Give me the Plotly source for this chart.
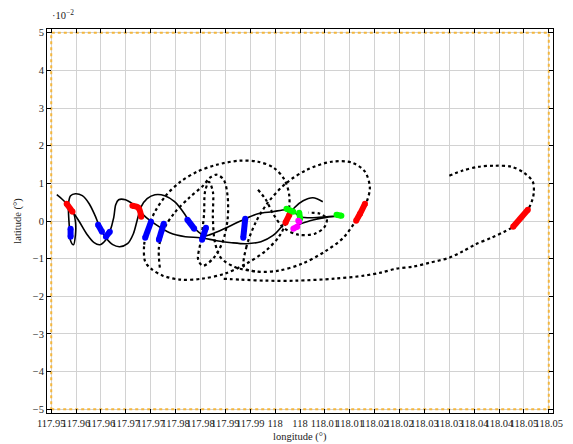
import plotly.graph_objects as go

# Latitudes are stored in units of 1e-2 degrees (the axis carries the 10^-2 factor).

# Domain boundary
box_lon = [117.95, 118.05, 118.05, 117.95, 117.95]
box_lat = [-5, -5, 5, 5, -5]

# Solid trajectories
s1_lon = [117.95112, 117.95231, 117.95369, 117.95448, 117.95487, 117.95487, 117.95448, 117.95389,
          117.95369, 117.95349, 117.95349, 117.95389, 117.95487, 117.95625, 117.95763, 117.95882,
          117.95980, 117.96099, 117.96237, 117.96375, 117.96533, 117.96651, 117.96730, 117.96809,
          117.96927, 117.97085, 117.97282, 117.97479, 117.97677, 117.97815, 117.97953, 117.98091,
          117.98288, 117.98564, 117.98860, 117.99156, 117.99452, 117.99728, 117.99866, 118.00004,
          118.00260, 118.00537, 118.00813, 118.00497, 118.00201, 117.99965]
s1_lat = [0.698, 0.565, 0.380, 0.220, -0.019, -0.364, -0.629, -0.523,
          -0.231, 0.167, 0.486, 0.672, 0.725, 0.672, 0.459, 0.141,
          -0.178, -0.443, -0.629, -0.682, -0.603, -0.337, 0.035, 0.380,
          0.592, 0.698, 0.672, 0.512, 0.194, -0.098, -0.284, -0.390,
          -0.311, -0.151, 0.035, 0.194, 0.247, 0.300, 0.247, 0.114,
          0.088, 0.114, 0.141, 0.088, 0.008, -0.098]

s2_lon = [117.95408, 117.95566, 117.95724, 117.95862, 117.95980, 117.96099, 117.96178, 117.96256,
          117.96296, 117.96355, 117.96493, 117.96631, 117.96750, 117.96868, 117.97105, 117.97381,
          117.97696, 117.97992, 117.98327, 117.98623, 117.98919, 117.99215, 117.99452, 117.99629,
          117.99748, 117.99886, 118.00063, 118.00260, 118.00458]
s2_lat = [0.300, -0.019, -0.364, -0.576, -0.629, -0.496, -0.284, 0.088,
          0.433, 0.565, 0.565, 0.459, 0.327, 0.141, -0.098, -0.311,
          -0.417, -0.443, -0.523, -0.576, -0.603, -0.549, -0.390, -0.151,
          0.088, 0.353, 0.539, 0.619, 0.512]

# Dotted trajectories
da_lon = [117.96888, 117.96868, 117.96947, 117.97085, 117.97302, 117.97598, 117.97933, 117.98327,
          117.98781, 117.99156, 117.99471, 117.99688, 117.99787, 117.99748, 117.99590, 117.99314,
          117.98919, 117.98485, 117.98032, 117.97598, 117.97243, 117.97006, 117.96888]
da_lat = [-1.080, -0.629, -0.178, 0.247, 0.672, 1.043, 1.309, 1.495,
          1.601, 1.574, 1.415, 1.096, 0.645, 0.088, -0.390, -0.788,
          -1.134, -1.399, -1.532, -1.558, -1.452, -1.266, -1.080]

db_lon = [117.97183, 117.97164, 117.97262, 117.97479, 117.97775, 117.98051, 117.98189, 117.98327,
          117.98466, 117.98544, 117.98544, 117.98446, 117.98268, 117.98051, 117.97953, 117.98012,
          117.98071, 117.98091, 117.98170, 117.98249, 117.98249, 117.98288, 117.98406, 117.98722,
          117.99156]
db_lat = [-1.240, -0.709, -0.231, 0.220, 0.619, 0.937, 1.149, 1.229,
          1.096, 0.672, 0.035, -0.549, -0.974, -1.187, -1.027, -0.496,
          0.167, 0.778, 1.043, 0.778, 0.088, -0.549, -0.974, -1.240,
          -1.346]

dc_lon = [117.98880, 117.98919, 117.99097, 117.99353, 117.99708, 118.00142, 118.00635, 118.01049,
          118.01306, 118.01404, 118.01325, 118.01207, 118.01109, 118.00872, 118.00497, 118.00043,
          117.99570, 117.99156, 117.98880]
dc_lat = [-1.240, -0.709, -0.072, 0.486, 0.990, 1.362, 1.574, 1.548,
          1.309, 0.884, 0.459, 0.194, -0.019, -0.443, -0.815, -1.134,
          -1.319, -1.346, -1.240]

de_lon = [117.99156, 117.99314, 117.99471, 117.99669, 117.99965, 118.00300, 118.00497, 118.00537,
          118.00399, 118.00162]
de_lat = [0.831, 0.565, 0.167, -0.178, -0.364, -0.337, -0.151, 0.061,
          0.194, 0.220]

dd_lon = [118.03002, 118.03258, 118.03594, 118.03909, 118.04245, 118.04501, 118.04679, 118.04698,
          118.04659, 118.04580, 118.04442, 118.04284, 118.04107, 118.03850, 118.03515, 118.03258,
          118.03002, 118.02608, 118.02272, 118.01937, 118.01621, 118.01286, 118.00694, 117.99905,
          117.99314, 117.98821, 117.98426]
dd_lat = [1.203, 1.335, 1.441, 1.468, 1.441, 1.282, 1.043, 0.745,
          0.519, 0.300, 0.061, -0.151, -0.284, -0.443, -0.629, -0.815,
          -0.974, -1.107, -1.213, -1.266, -1.372, -1.452, -1.532, -1.585,
          -1.585, -1.558, -1.532]

# Event segments
red_segments = [
    ([117.95310, 117.95428], [0.459, 0.247]),
    ([117.96631, 117.96750, 117.96809], [0.406, 0.353, 0.114]),
    ([117.99787, 117.99708], [0.167, -0.045]),
    ([118.01306, 118.01207, 118.01128], [0.459, 0.194, 0.008]),
    ([118.04580, 118.04284], [0.300, -0.151]),
]
blue_segments = [
    ([117.95389, 117.95389], [-0.204, -0.417]),
    ([117.95941, 117.96020], [-0.098, -0.284]),
    ([117.96099, 117.96178], [-0.417, -0.284]),
    ([117.97006, 117.96888], [-0.019, -0.443]),
    ([117.97262, 117.97164], [-0.072, -0.496]),
    ([117.97736, 117.97874], [0.035, -0.204]),
    ([117.98110, 117.98032], [-0.178, -0.496]),
    ([117.98899, 117.98860], [0.061, -0.443]),
]
green_segments = [
    ([117.99728, 117.99866], [0.327, 0.247]),
    ([117.99984, 118.00004], [0.220, 0.061]),
    ([118.00734, 118.00832], [0.167, 0.141]),
]
magenta_segments = [
    ([117.99965, 117.99984], [0.008, -0.019]),
    ([117.99866, 117.99945], [-0.204, -0.151]),
]

x_ticks = [117.95 + 0.005 * i for i in range(21)]
x_tick_text = ["117.95", "117.96", "117.96", "117.97", "117.97", "117.98", "117.98",
               "117.99", "117.99", "118", "118", "118.01", "118.01", "118.02", "118.02",
               "118.03", "118.03", "118.04", "118.04", "118.05", "118.05"]
y_ticks = [5, 4, 3, 2, 1, 0, -1, -2, -3, -4, -5]
y_tick_text = ["5", "4", "3", "2", "1", "0", "\u22121", "\u22122", "\u22123", "\u22124", "\u22125"]

FONT = "Liberation Serif"
TEXT_COLOR = "#222"

fig = go.Figure()

fig.add_trace(go.Scatter(x=box_lon, y=box_lat, mode="lines",
                         line=dict(color="#f4b63c", width=2, dash="3px,3px")))

for lo, la in [(da_lon, da_lat), (db_lon, db_lat), (dc_lon, dc_lat), (de_lon, de_lat), (dd_lon, dd_lat)]:
    fig.add_trace(go.Scatter(x=lo, y=la, mode="lines",
                             line=dict(color="black", width=2.2, dash="3px,3px", shape="spline", smoothing=0.9)))

for lo, la in [(s1_lon, s1_lat), (s2_lon, s2_lat)]:
    fig.add_trace(go.Scatter(x=lo, y=la, mode="lines",
                             line=dict(color="black", width=1.6, shape="spline", smoothing=0.9)))

for segs, col in [(red_segments, "#ff0000"), (blue_segments, "#0000ff"),
                  (green_segments, "#00ff00"), (magenta_segments, "#ff00ff")]:
    for lo, la in segs:
        fig.add_trace(go.Scatter(x=lo, y=la, mode="lines+markers",
                                 line=dict(color=col, width=6, shape="spline"),
                                 marker=dict(color=col, size=6)))

axis_common = dict(showgrid=True, gridcolor="#d2d2d2", gridwidth=1, zeroline=False,
                   showline=True, linecolor="black", linewidth=1, mirror="ticks",
                   ticks="inside", ticklen=4, tickcolor="black", tickwidth=1,
                   tickfont=dict(family=FONT, size=10.5, color=TEXT_COLOR))

fig.update_layout(
    width=573, height=444,
    margin=dict(l=47, r=10, t=29, b=31),
    paper_bgcolor="white", plot_bgcolor="white",
    showlegend=False,
    xaxis=dict(range=[117.94915, 118.05085], tickmode="array", tickvals=x_ticks,
               ticktext=x_tick_text, tickangle=0, **axis_common),
    yaxis=dict(range=[-5.1, 5.1], tickmode="array", tickvals=y_ticks,
               ticktext=y_tick_text, **axis_common),
    annotations=[
        dict(text="longitude (\u00b0)", xref="paper", yref="paper", x=0.5, y=-0.063,
             showarrow=False, yanchor="middle", font=dict(family=FONT, size=10.5, color=TEXT_COLOR)),
        dict(text="latitude (\u00b0)", xref="paper", yref="paper", x=-0.058, y=0.5,
             showarrow=False, textangle=-90, xanchor="center", yanchor="middle",
             font=dict(family=FONT, size=10.5, color=TEXT_COLOR)),
        dict(text="\u00b710<sup>\u22122</sup>", xref="paper", yref="paper", x=0.0, y=1.0,
             xanchor="left", yanchor="bottom", xshift=3, yshift=6, showarrow=False,
             font=dict(family=FONT, size=10.5, color=TEXT_COLOR)),
    ],
)

fig.write_html("out.html")
